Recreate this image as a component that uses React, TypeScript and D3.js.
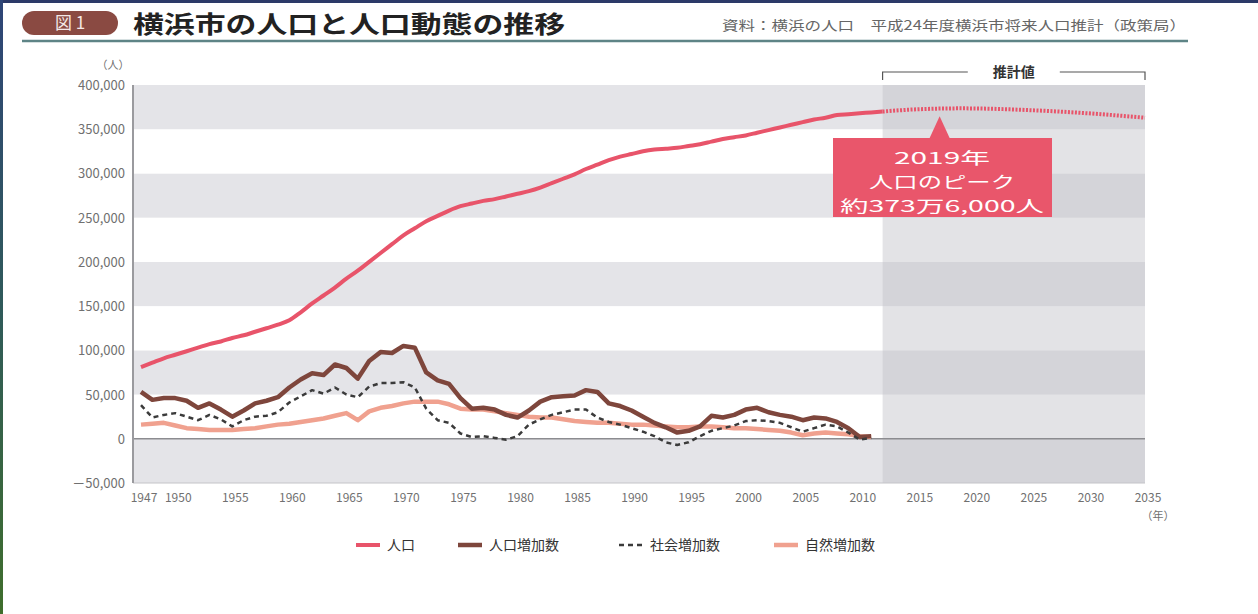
import React from "react";
import * as d3 from "d3";

const popYears = d3.range(1947, 2013);
const population = [
  81, 86, 91, 95, 99, 103, 107, 110, 114, 117,
  121, 125, 129, 134, 143, 153, 162, 171, 181, 190,
  200, 210, 220, 230, 238, 246, 252, 258, 263, 266,
  269, 271, 274, 277, 280, 284, 289, 294, 299, 305,
  310, 315, 319, 322, 325, 327, 328, 329, 331, 333,
  336, 339, 341, 343, 346, 349, 352, 355, 358, 361,
  363, 366, 367, 368, 369, 370,
].map((v) => v * 1000);

const forecastYears = [2012, 2015, 2019, 2020, 2025, 2030, 2035];
const forecastPop = [370, 372.5, 373.6, 373.5, 371.5, 368, 363].map((v) => v * 1000);

const changeYears = d3.range(1947, 2012);
const increase = [
  53, 44, 46, 46, 43, 35, 40, 33, 25, 32,
  40, 43, 47, 58, 67, 74, 72, 84, 80, 68,
  88, 98, 97, 105, 103, 75, 66, 62, 46, 34,
  35, 33, 27, 24, 32, 42, 47, 48, 49, 55,
  53, 40, 37, 32, 25, 18, 13, 7, 9, 14,
  26, 24, 27, 33, 35, 30, 27, 25, 21, 24,
  23, 19, 12, 2, 3,
].map((v) => v * 1000);
const social = [
  38, 24, 27, 29, 25, 21, 27, 22, 14, 21,
  25, 26, 30, 41, 48, 55, 51, 58, 50, 47,
  59, 63, 63, 64, 58, 34, 21, 18, 6, 2,
  3, 1, -1, 3, 16, 22, 27, 30, 33, 33,
  24, 19, 16, 12, 8, 3, -4, -7, -4, 3,
  9, 12, 15, 20, 21, 20, 18, 13, 8, 12,
  16, 14, 7, -1, 1,
].map((v) => v * 1000);
const natural = [
  16, 17, 18, 15, 12, 11, 10, 10, 10, 11,
  12, 14, 16, 17, 19, 21, 23, 26, 29, 21,
  31, 35, 37, 40, 42, 42, 42, 39, 34, 33,
  33, 31, 29, 27, 25, 24, 24, 22, 20, 19,
  18, 18, 17, 16, 16, 15, 14, 13, 13, 14,
  14, 13, 12, 12, 11, 10, 9, 7, 4, 6,
  7, 6, 5, 3, 2,
].map((v) => v * 1000);

const xTicks = [1947, 1950, 1955, 1960, 1965, 1970, 1975, 1980, 1985, 1990, 1995, 2000, 2005, 2010, 2015, 2020, 2025, 2030, 2035];
const yTicks = [400000, 350000, 300000, 250000, 200000, 150000, 100000, 50000, 0, -50000];
const forecastStart = 2012;
const forecastEnd = 2035;
const peakYear = 2017;

const annotationLines = ["2019年", "人口のピーク", "約373万6,000人"];
const annotationWidths = [96, 146, 204];

const legendItems = [
  { label: "人口", color: "#e8546a", dash: "", width: 4 },
  { label: "人口増加数", color: "#7e463c", dash: "", width: 4.5 },
  { label: "社会増加数", color: "#3b3b3b", dash: "5,4", width: 2.5 },
  { label: "自然増加数", color: "#f0a18f", dash: "", width: 4.5 },
];

const FONT = "'Noto Sans CJK JP', 'DejaVu Sans', sans-serif";

export default function App() {
  const W = 1258, H = 614;
  const plotL = 133, plotR = 1145, plotT = 85, plotB = 483;
  const x = d3.scaleLinear().domain([1947, 2035]).range([141, 1145]);
  const y = d3.scaleLinear().domain([-50000, 400000]).range([plotB, plotT]);

  const lineOf = (xs: number[], ys: number[], curve: any = d3.curveLinear) =>
    d3.line<number>().x((_, i) => x(xs[i])).y((v) => y(v)).curve(curve)(ys) || "";

  const bands = d3.range(-50000, 400000, 50000);
  const fx0 = x(forecastStart), fx1 = x(forecastEnd);
  const tipX = x(peakYear);

  const legendX = [356, 458, 619, 774];

  return (
    <svg width={W} height={H} style={{ position: "absolute", left: 0, top: 0, background: "#fff" }} fontFamily={FONT}>
      <defs>
        <linearGradient id="leftEdge" x1="0" y1="0" x2="0" y2="1">
          <stop offset="0" stopColor="#2e4577" />
          <stop offset="0.5" stopColor="#2f5a5a" />
          <stop offset="1" stopColor="#3f6e2c" />
        </linearGradient>
      </defs>
      <rect x={0} y={0} width={W} height={H} fill="#fff" />
      <rect x={0} y={0} width={W} height={3} fill="#2c3a68" />
      <rect x={0} y={0} width={3} height={H} fill="url(#leftEdge)" />

      {/* header */}
      <rect x={22} y={11} width={96} height={24} rx={12} fill="#8a4a42" />
      <text x={70} y={29} fill="#f4e8e6" fontSize={17} textAnchor="middle">図 1</text>
      <text x={133} y={33} fill="#222" fontSize={24} fontWeight="bold" textLength={432} lengthAdjust="spacingAndGlyphs">横浜市の人口と人口動態の推移</text>
      <text x={1186} y={30} fill="#666" fontSize={13} textAnchor="end" textLength={464} lengthAdjust="spacingAndGlyphs">資料：横浜の人口　平成24年度横浜市将来人口推計（政策局）</text>
      <line x1={22} x2={1188} y1={41} y2={41} stroke="#5e8486" strokeWidth={2.5} />

      {/* bands */}
      {bands.map((b) => (
        <rect key={b} x={plotL} y={y(b + 50000)} width={plotR - plotL} height={y(b) - y(b + 50000)}
          fill={((b + 50000) / 50000) % 2 === 0 ? "#e4e4e8" : "#ffffff"} />
      ))}
      {/* forecast overlay */}
      <rect x={fx0} y={plotT} width={fx1 - fx0} height={plotB - plotT} fill="#c0c2c8" opacity={0.45} />
      <line x1={plotL} x2={plotR} y1={plotB} y2={plotB} stroke="#c4c4c8" strokeWidth={1} />
      <line x1={plotL} x2={plotR} y1={y(0)} y2={y(0)} stroke="#8c8c90" strokeWidth={1.5} />
      <line x1={plotL} x2={plotL} y1={plotT} y2={plotB} stroke="#9a9a9e" strokeWidth={2} />

      {/* y ticks */}
      {yTicks.map((t) => (
        <text key={t} x={125} y={y(t) + 5} fill="#707070" fontSize={13} textAnchor="end">
          {t < 0 ? "－" + d3.format(",")(-t) : d3.format(",")(t)}
        </text>
      ))}
      <text x={113} y={69} fill="#707070" fontSize={11} textAnchor="middle">（人）</text>

      {/* x ticks */}
      {xTicks.map((t) => (
        <text key={t} x={x(t) + 3} y={502} fill="#707070" fontSize={12} textAnchor="middle">{t}</text>
      ))}
      <text x={1158} y={520} fill="#707070" fontSize={11} textAnchor="middle">（年）</text>

      {/* lines */}
      <path d={lineOf(changeYears, natural)} fill="none" stroke="#f0a18f" strokeWidth={4.5} strokeLinejoin="round" />
      <path d={lineOf(changeYears, increase)} fill="none" stroke="#7e463c" strokeWidth={4.5} strokeLinejoin="round" />
      <path d={lineOf(changeYears, social)} fill="none" stroke="#3b3b3b" strokeWidth={2.5} strokeDasharray="5,4" strokeLinejoin="round" />
      <path d={lineOf(popYears, population, d3.curveMonotoneX)} fill="none" stroke="#e8546a" strokeWidth={4} strokeLinejoin="round" />
      <path d={lineOf(forecastYears, forecastPop, d3.curveMonotoneX)} fill="none" stroke="#e8546a" strokeWidth={4} strokeDasharray="2,1.5" />

      {/* 推計値 bracket */}
      <path d={`M${fx0},80 V72 H${(fx0 + fx1) / 2 - 46} M${(fx0 + fx1) / 2 + 46},72 H${fx1} V80`} fill="none" stroke="#555" strokeWidth={1.2} />
      <text x={(fx0 + fx1) / 2} y={77} fill="#333" fontSize={14} fontWeight="bold" textAnchor="middle">推計値</text>

      {/* annotation */}
      <path d={`M${tipX},${y(373600) + 8} L${tipX + 10},138 L${tipX - 10},138 Z`} fill="#e9566b" />
      <rect x={833} y={138} width={219} height={79} fill="#e9566b" />
      <g fill="#fff" fontSize={16} textAnchor="middle">
        {annotationLines.map((s, i) => (
          <text key={s} x={942} y={164 + i * 24} textLength={annotationWidths[i]} lengthAdjust="spacingAndGlyphs">{s}</text>
        ))}
      </g>

      {/* legend */}
      {legendItems.map((it, i) => (
        <g key={it.label} transform={`translate(${legendX[i]},545)`}>
          <line x1={0} x2={24} y1={0} y2={0} stroke={it.color} strokeWidth={it.width} strokeDasharray={it.dash} />
          <text x={31} y={5} fill="#333" fontSize={14}>{it.label}</text>
        </g>
      ))}
    </svg>
  );
}
